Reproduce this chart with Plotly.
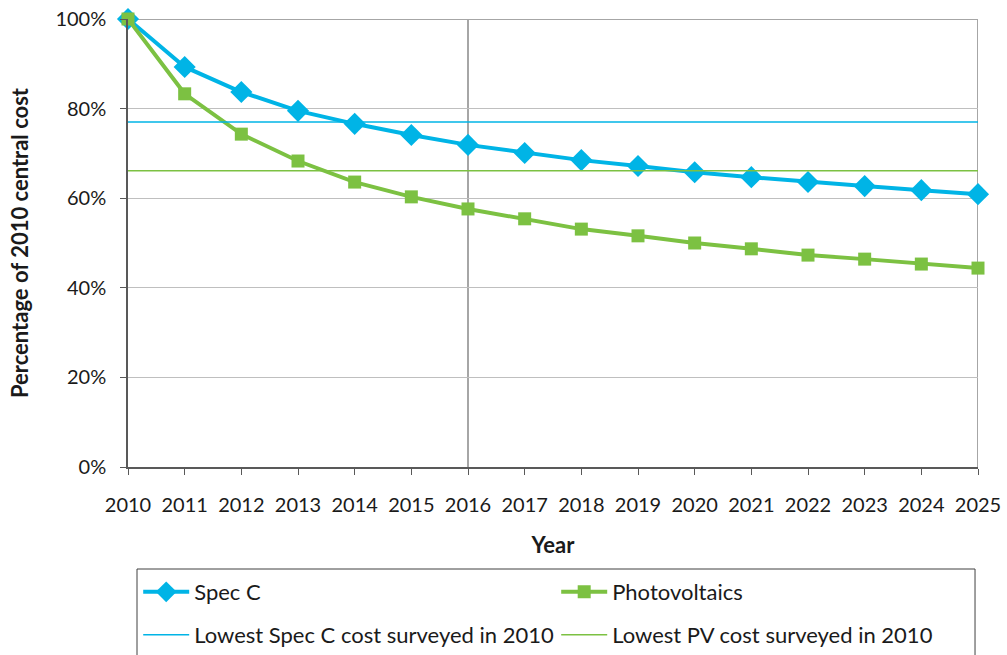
import plotly.graph_objects as go

years = list(range(2010, 2026))
spec_c = [100, 89.3, 83.7, 79.5, 76.6, 74.1, 71.9, 70.1, 68.5, 67.2, 65.8, 64.7, 63.6, 62.7, 61.8, 60.9]
pv = [100, 83.3, 74.3, 68.3, 63.6, 60.3, 57.6, 55.4, 53.1, 51.6, 50.0, 48.7, 47.3, 46.4, 45.3, 44.4]
lowest_spec_c = 77.0
lowest_pv = 66.1
highlight_year = 2016
y_ticks = [0, 20, 40, 60, 80, 100]
y_tick_labels = ["0%", "20%", "40%", "60%", "80%", "100%"]

BLUE = "#00B4E6"
GREEN = "#7CC142"
FONT = "Lato, Carlito, 'Open Sans', sans-serif"
TXT = "#1a1a1a"

fig = go.Figure()

fig.add_trace(go.Scatter(
    x=years, y=spec_c, name="Spec C", mode="lines+markers",
    line=dict(color=BLUE, width=4),
    marker=dict(symbol="diamond", size=17, color=BLUE),
    cliponaxis=False, legend="legend"))
fig.add_trace(go.Scatter(
    x=years, y=pv, name="Photovoltaics", mode="lines+markers",
    line=dict(color=GREEN, width=4),
    marker=dict(symbol="square", size=13, color=GREEN),
    cliponaxis=False, legend="legend"))
fig.add_trace(go.Scatter(
    x=[years[0], years[-1]], y=[lowest_spec_c, lowest_spec_c],
    name="Lowest Spec C cost surveyed in 2010", mode="lines",
    line=dict(color=BLUE, width=1.5), legend="legend2"))
fig.add_trace(go.Scatter(
    x=[years[0], years[-1]], y=[lowest_pv, lowest_pv],
    name="Lowest PV cost surveyed in 2010", mode="lines",
    line=dict(color=GREEN, width=1.5), legend="legend2"))

# plot frame (top, right) and highlighted year line
fig.add_shape(type="line", xref="x", yref="paper", x0=highlight_year, x1=highlight_year,
              y0=0, y1=1, line=dict(color="#A6A6A6", width=2), layer="below")
fig.add_shape(type="line", xref="x", yref="paper", x0=years[-1], x1=years[-1],
              y0=0, y1=1, line=dict(color="#A6A6A6", width=2), layer="below")
fig.add_shape(type="line", xref="paper", yref="y", x0=0, x1=1,
              y0=y_ticks[-1], y1=y_ticks[-1], line=dict(color="#A6A6A6", width=2), layer="below")

# legend frame
fig.add_shape(type="rect", xref="paper", yref="paper",
              x0=0.0106, x1=0.9965, y0=-0.45, y1=-0.2277,
              line=dict(color="#404040", width=1), fillcolor="rgba(0,0,0,0)")

legend_common = dict(orientation="h", xanchor="left", yanchor="middle",
                     bgcolor="rgba(0,0,0,0)", borderwidth=0,
                     font=dict(family=FONT, size=22, color=TXT),
                     entrywidth=357, entrywidthmode="pixels", itemwidth=46)

fig.update_layout(
    width=1007, height=655,
    margin=dict(l=128, r=29, t=19, b=188, autoexpand=False),
    paper_bgcolor="white", plot_bgcolor="white",
    font=dict(family=FONT, size=20, color=TXT),
    showlegend=True,
    legend=dict(x=0.012, y=-0.279, **legend_common),
    legend2=dict(x=0.012, y=-0.375, **legend_common),
    xaxis=dict(
        range=[years[0], years[-1]], tickmode="array", tickvals=years,
        ticktext=[str(y) for y in years], automargin=False,
        showgrid=False, zeroline=False,
        showline=True, linecolor="#595959", linewidth=1.5,
        ticks="outside", ticklen=6, tickcolor="#595959", ticklabelstandoff=13,
        tickfont=dict(family=FONT, size=20, color=TXT),
        title=dict(text="<b>Year</b>", standoff=23,
                   font=dict(family=FONT, size=22, color=TXT)),
    ),
    yaxis=dict(
        range=[0, 100], tickmode="array", tickvals=y_ticks, ticktext=y_tick_labels,
        automargin=False,
        showgrid=True, gridcolor="#BFBFBF", gridwidth=1, zeroline=False,
        showline=True, linecolor="#595959", linewidth=1.5,
        ticks="outside", ticklen=6, tickcolor="#595959", ticklabelstandoff=10,
        tickfont=dict(family=FONT, size=20, color=TXT),
        title=dict(text="<b>Percentage of 2010 central cost</b>", standoff=21,
                   font=dict(family=FONT, size=22, color=TXT)),
    ),
)

fig.write_html("out.html")
